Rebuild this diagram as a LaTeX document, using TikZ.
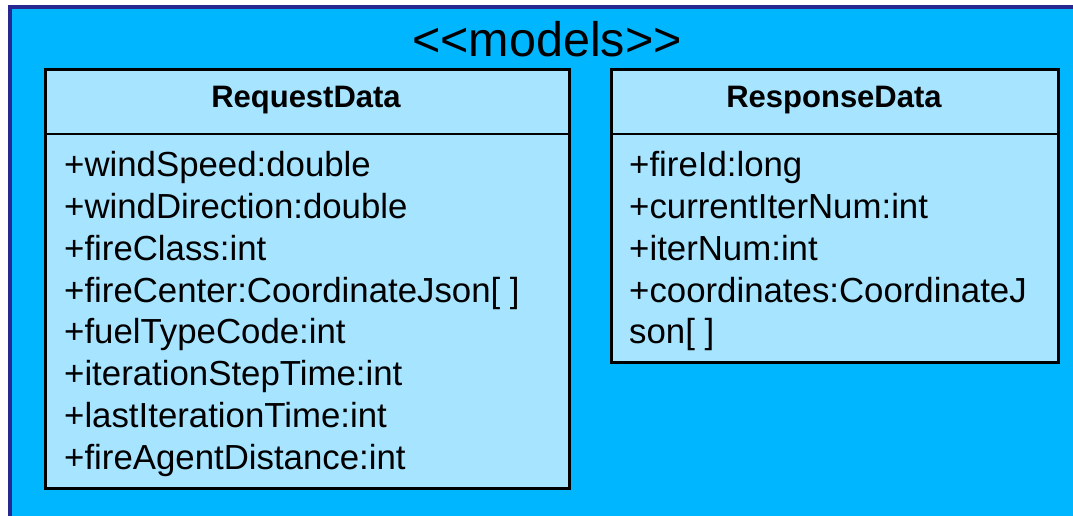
\documentclass[tikz,border=0pt]{standalone}
\usepackage{fontspec}
\setmainfont{Liberation Sans}
\definecolor{pkgblue}{RGB}{0,182,255}
\definecolor{pkgframe}{RGB}{40,40,145}
\definecolor{classfill}{RGB}{166,228,255}
\tikzset{
  x=1pt, y=-1pt,
  classbox/.style={draw=black, line width=2.6pt, fill=classfill, inner sep=0pt, anchor=north west},
  classname/.style={font=\fontsize{31}{36}\selectfont\bfseries, anchor=base, inner sep=0pt},
  attr/.style={font=\fontsize{34.8}{41.86}\selectfont, anchor=base west, inner sep=0pt},
  pkgtitle/.style={font=\fontsize{48.5}{54}\selectfont, anchor=base, inner sep=0pt}
}
\begin{document}
\begin{tikzpicture}
  \useasboundingbox (0,0) rectangle (1073,516);
  % package frame
  \fill[white] (0,0) rectangle (1073,516);
  \fill[pkgframe] (8,5) rectangle (1073,516);
  \fill[pkgblue] (12,9) rectangle (1073,516);
  \node[pkgtitle] (title) at (547,57) {{<}{<}models{>}{>}};

  % RequestData class
  \node[classbox, minimum width=524pt, minimum height=419pt] (req) at (44,68) {};
  \draw[line width=2.6pt] (req.west |- 0,134) coordinate (reqdl) -- (req.east |- 0,134) coordinate (reqdr);
  \node[classname] (reqname) at (306,108) {RequestData};
  \node[attr] (r1) at (64,176) {+windSpeed:double};
  \node[attr] (r2) at (64,218) {+windDirection:double};
  \node[attr] (r3) at (64,260) {+fireClass:int};
  \node[attr] (r4) at (64,302) {+fireCenter:CoordinateJson[ ]};
  \node[attr] (r5) at (64,343) {+fuelTypeCode:int};
  \node[attr] (r6) at (64,385) {+iterationStepTime:int};
  \node[attr] (r7) at (64,427) {+lastIterationTime:int};
  \node[attr] (r8) at (64,469) {+fireAgentDistance:int};

  % ResponseData class
  \node[classbox, minimum width=447pt, minimum height=293pt] (resp) at (610,68) {};
  \draw[line width=2.6pt] (resp.west |- 0,134) coordinate (respdl) -- (resp.east |- 0,134) coordinate (respdr);
  \node[classname] (respname) at (834,108) {ResponseData};
  \node[attr] (s1) at (629,176) {+fireId:long};
  \node[attr] (s2) at (629,218) {+currentIterNum:int};
  \node[attr] (s3) at (629,260) {+iterNum:int};
  \node[attr] (s4) at (629,302) {+coordinates:CoordinateJ};
  \node[attr] (s5) at (629,343) {son[ ]};
\end{tikzpicture}
\end{document}
